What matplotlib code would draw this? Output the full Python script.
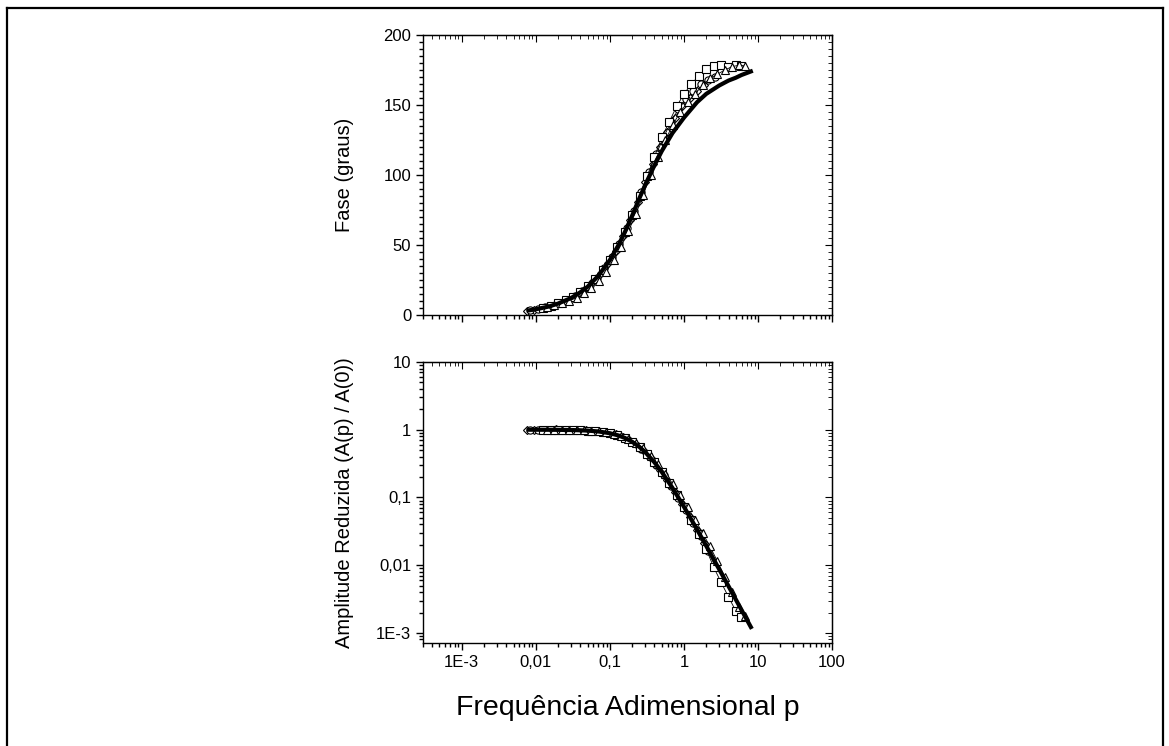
import matplotlib
matplotlib.use("Agg")
import matplotlib.pyplot as plt
from matplotlib.ticker import MultipleLocator, LogLocator, NullFormatter
from matplotlib.lines import Line2D

plt.rcParams['font.family'] = ['Liberation Sans', 'DejaVu Sans']

# curva teórica (linha grossa)
p_curve = [0.008, 0.01, 0.015, 0.02, 0.03, 0.04, 0.05, 0.07, 0.1, 0.13, 0.16, 0.2,
           0.25, 0.3, 0.4, 0.5, 0.7, 1, 1.5, 2, 3, 4, 5, 6, 8]
fase_curve = [3.3, 4.1, 6.1, 8.2, 12.2, 16.3, 20.2, 28.1, 39.3, 49.8, 59.5, 71.1,
              83.4, 93, 107, 117, 130, 141, 152, 158, 164, 167.5, 169.5, 171.5, 174]
amp_curve = [0.9992, 0.9987, 0.9971, 0.9949, 0.9886, 0.98, 0.9691, 0.9412, 0.8869, 0.8227,
             0.7538, 0.6622, 0.5564, 0.4655, 0.3289, 0.2387, 0.1379, 0.0727, 0.0337, 0.0192,
             0.00864, 0.00488, 0.00313, 0.00217, 0.00122]

# losangos
p_d = [0.0075, 0.0094, 0.0119, 0.015, 0.0189, 0.0238, 0.03, 0.0377, 0.0475, 0.0598, 0.0753,
       0.0948, 0.119, 0.150, 0.189, 0.238, 0.300, 0.378, 0.476, 0.599, 0.754, 0.949, 1.19,
       1.50, 1.89]
fase_d = [3.1, 3.9, 4.8, 6.2, 7.6, 9.8, 12.1, 15.4, 19.1, 24.2, 30.0, 37.5, 46.1, 56.3, 68.2,
          81.0, 95, 108, 120, 131, 141, 149, 155, 160, 164]
amp_d = [1.0, 0.999, 1.005, 0.998, 1.01, 0.996, 0.99, 0.985, 0.975, 0.958, 0.935, 0.898,
         0.85, 0.778, 0.69, 0.58, 0.466, 0.356, 0.256, 0.179, 0.121, 0.080, 0.052, 0.0335,
         0.0212]

# círculos
p_c = [0.0084, 0.0106, 0.0133, 0.0168, 0.0211, 0.0266, 0.0335, 0.0422, 0.0531, 0.0668,
       0.0841, 0.106, 0.133, 0.168, 0.211, 0.266, 0.335, 0.422, 0.531, 0.668, 0.841, 1.06,
       1.33, 1.68, 2.11, 2.66]
fase_c = [3.5, 4.3, 5.5, 6.8, 8.7, 10.8, 13.7, 17.0, 21.6, 26.7, 33.5, 41.4, 50.9, 62.0, 74.2,
          88, 102, 115, 127, 138, 147, 154, 160, 165, 168, 170]
amp_c = [0.999, 1.003, 0.998, 1.002, 0.994, 0.992, 0.987, 0.978, 0.966, 0.946, 0.918, 0.876,
         0.816, 0.735, 0.638, 0.526, 0.411, 0.306, 0.217, 0.149, 0.0995, 0.065, 0.0422,
         0.0265, 0.016, 0.0095]

# quadrados
p_s = [0.0126, 0.0159, 0.02, 0.0252, 0.0317, 0.0399, 0.0502, 0.0632, 0.0796, 0.1, 0.126,
       0.159, 0.2, 0.252, 0.317, 0.399, 0.502, 0.632, 0.796, 1.0, 1.26, 1.59, 2.0, 2.52,
       3.17, 3.99, 5.02, 5.8]
fase_s = [5.3, 6.6, 8.3, 10.4, 13.0, 16.4, 20.5, 25.6, 32.0, 39.6, 48.8, 59.4, 71.5, 85, 99,
          113, 127, 138, 149, 158, 165, 171, 176, 178, 178.5, 177.5, 178.5, 178]
amp_s = [0.998, 1.001, 0.995, 0.993, 0.987, 0.98, 0.969, 0.951, 0.925, 0.887, 0.832, 0.756,
         0.662, 0.552, 0.438, 0.33, 0.237, 0.164, 0.11, 0.0725, 0.046, 0.029, 0.0172,
         0.0093, 0.0056, 0.0034, 0.0021, 0.0017]

# triângulos
p_t = [0.0141, 0.0178, 0.0224, 0.0282, 0.0355, 0.0447, 0.0562, 0.0708, 0.0891, 0.112, 0.141,
       0.178, 0.224, 0.282, 0.355, 0.447, 0.562, 0.708, 0.891, 1.12, 1.41, 1.78, 2.24, 2.82,
       3.55, 4.47, 5.62, 6.61]
fase_t = [5.6, 6.9, 8.4, 10, 12.5, 15.5, 19.5, 24.5, 31, 39, 48.5, 60, 72, 86, 100, 113, 125,
          136, 145, 152, 158, 164, 169, 172, 175, 177.5, 178.5, 178]
amp_t = [0.998, 0.996, 0.994, 0.99, 0.985, 0.976, 0.962, 0.942, 0.912, 0.875, 0.82, 0.74,
         0.645, 0.53, 0.415, 0.31, 0.225, 0.158, 0.108, 0.072, 0.047, 0.030, 0.019, 0.0115,
         0.0068, 0.0040, 0.0024, 0.0018]

xtick_vals = [1e-3, 1e-2, 1e-1, 1, 10, 100]
xtick_labels = ['1E-3', '0,01', '0,1', '1', '10', '100']
ytick_vals_amp = [1e-3, 1e-2, 1e-1, 1, 10]
ytick_labels_amp = ['1E-3', '0,01', '0,1', '1', '10']

series = [(p_d, fase_d, amp_d, 'D'), (p_c, fase_c, amp_c, 'o'),
          (p_s, fase_s, amp_s, 's'), (p_t, fase_t, amp_t, '^')]

fig = plt.figure(figsize=(11.69, 7.46), dpi=100)
ax1 = fig.add_axes([0.3619, 0.5777, 0.3499, 0.3753])
ax2 = fig.add_axes([0.3619, 0.1381, 0.3499, 0.3767])

for px, fy, ay, mk in series:
    ms = 4.4 if mk == 'D' else 5.2
    ax1.plot(px, fy, color='black', lw=0.6, marker=mk, ms=ms, mfc='white', mec='black', mew=0.8)
    ax2.plot(px, ay, color='black', lw=0.6, marker=mk, ms=ms, mfc='white', mec='black', mew=0.8)

ax1.plot(p_curve, fase_curve, color='black', lw=3, zorder=5)
ax2.plot(p_curve, amp_curve, color='black', lw=3, zorder=5)

for ax in (ax1, ax2):
    ax.set_xscale('log')
    ax.set_xlim(3e-4, 100)
    ax.set_xticks(xtick_vals)
    ax.xaxis.set_minor_locator(LogLocator(base=10, subs=range(2, 10), numticks=20))
    ax.xaxis.set_minor_formatter(NullFormatter())
    ax.tick_params(which='both', direction='out', labelsize=12, width=1)
    ax.tick_params(which='major', length=5)
    ax.tick_params(which='minor', length=3)
    for s in ax.spines.values():
        s.set_linewidth(1)
    # eixo de cima e da direita com ticks para dentro
    sec = ax.secondary_xaxis('top')
    sec.set_xticks(xtick_vals)
    sec.xaxis.set_minor_locator(LogLocator(base=10, subs=range(2, 10), numticks=20))
    sec.tick_params(which='both', direction='in', labeltop=False)
    sec.tick_params(which='major', length=5)
    sec.tick_params(which='minor', length=3)

ax1.set_xticklabels([])
ax2.set_xticklabels(xtick_labels)

ax1.set_ylim(0, 200)
ax1.set_yticks([0, 50, 100, 150, 200])
ax1.yaxis.set_minor_locator(MultipleLocator(5))
sec1 = ax1.secondary_yaxis('right')
sec1.set_yticks([0, 50, 100, 150, 200])
sec1.yaxis.set_minor_locator(MultipleLocator(5))
sec1.tick_params(which='both', direction='in', labelright=False)
sec1.tick_params(which='major', length=5)
sec1.tick_params(which='minor', length=3)

ax2.set_yscale('log')
ax2.set_ylim(7.1e-4, 10)
ax2.set_yticks(ytick_vals_amp)
ax2.set_yticklabels(ytick_labels_amp)
ax2.yaxis.set_minor_locator(LogLocator(base=10, subs=range(2, 10), numticks=20))
ax2.yaxis.set_minor_formatter(NullFormatter())
sec2 = ax2.secondary_yaxis('right')
sec2.set_yticks(ytick_vals_amp)
sec2.yaxis.set_minor_locator(LogLocator(base=10, subs=range(2, 10), numticks=20))
sec2.tick_params(which='both', direction='in', labelright=False)
sec2.tick_params(which='major', length=5)
sec2.tick_params(which='minor', length=3)

ax1.set_ylabel('Fase (graus)', fontsize=14.5)
ax1.yaxis.set_label_coords(-0.168, 0.5)
ax2.set_ylabel('Amplitude Reduzida (A(p) / A(0))', fontsize=14.5)
ax2.yaxis.set_label_coords(-0.168, 0.5)
ax2.set_xlabel('Frequência Adimensional p', fontsize=20.5, labelpad=18)

# moldura da figura
W, H = 1169, 746
fig.add_artist(Line2D([6.5 / W, 6.5 / W], [0, 1 - 7.5 / H], transform=fig.transFigure, color='black', lw=1.6))
fig.add_artist(Line2D([6.5 / W, 1162.5 / W], [1 - 7.5 / H, 1 - 7.5 / H], transform=fig.transFigure, color='black', lw=1.6))
fig.add_artist(Line2D([1162.5 / W, 1162.5 / W], [0, 1 - 7.5 / H], transform=fig.transFigure, color='black', lw=1.6))

fig.savefig('out.png', dpi=100)
